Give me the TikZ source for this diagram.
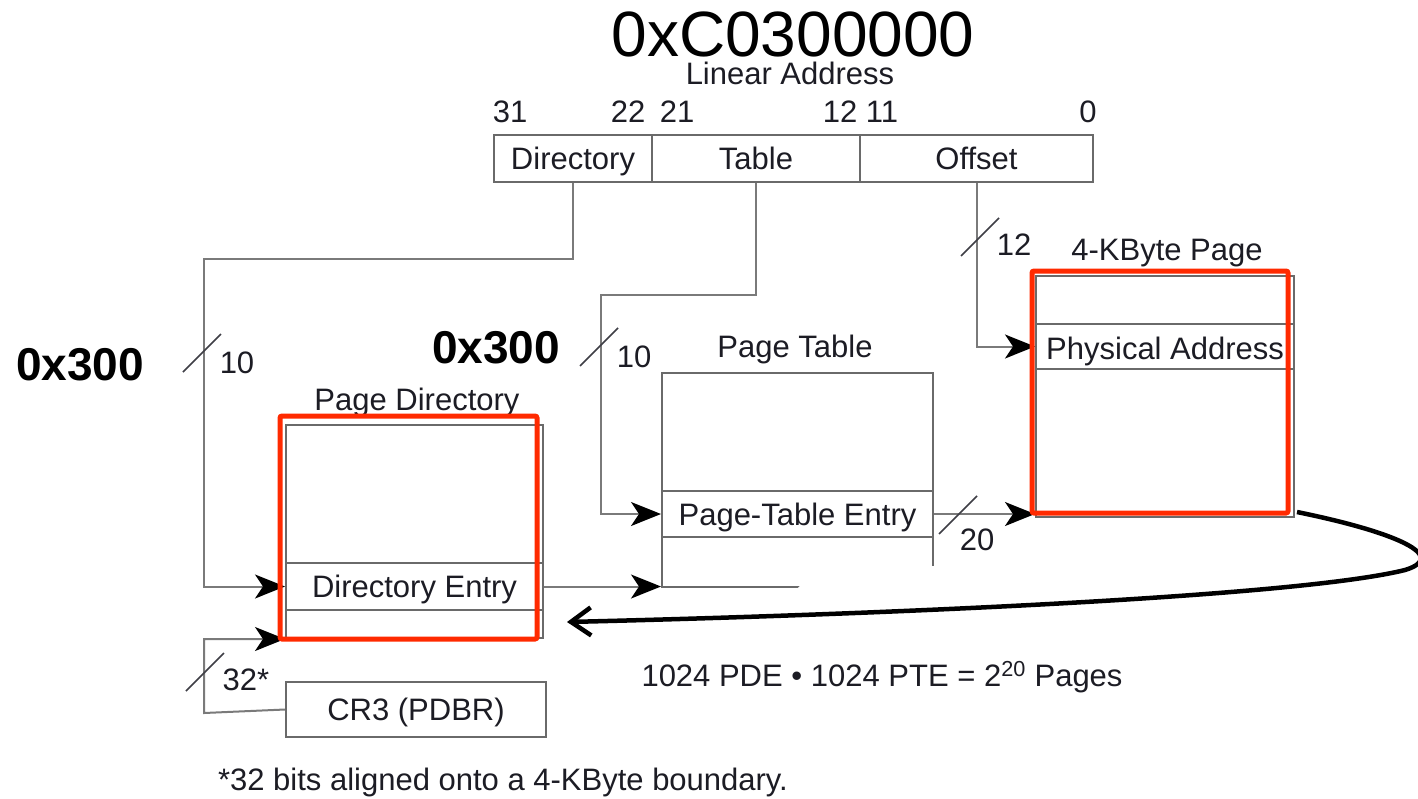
\documentclass[tikz,border=0pt]{standalone}
\usepackage{fontspec}
\setmainfont{Liberation Sans}
\usetikzlibrary{arrows.meta,calc}
\definecolor{linegray}{HTML}{7A7A7A}
\definecolor{boxgray}{HTML}{6A6A6A}
\definecolor{ink}{HTML}{1C1C24}
\definecolor{hilite}{HTML}{FF2A00}
\tikzset{
  txt/.style={font=\fontsize{31}{36}\selectfont, inner sep=0pt, text=ink},
  big/.style={font=\fontsize{64}{70}\selectfont, inner sep=0pt, text=black},
  hexlbl/.style={font=\fontsize{46}{50}\selectfont\bfseries, inner sep=0pt, text=black},
  cell/.style={draw=boxgray, line width=2pt, inner sep=0pt, text height=22pt, text depth=0pt,
    font=\fontsize{31}{36}\selectfont, text=ink},
  conn/.style={draw=linegray, line width=2pt},
  arrowtip/.style={-{Stealth[length=30pt,width=24pt,inset=8pt,color=black]}},
  slashmark/.style={draw=ink!85, line width=1.6pt},
  redframe/.style={draw=hilite, line width=5pt, rounded corners=2pt},
  loopback/.style={draw=black, line width=4.5pt, -{Straight Barb[length=20pt,width=28pt]}},
}
\begin{document}
\begin{tikzpicture}[x=1pt,y=-1pt]
\useasboundingbox (0,0) rectangle (1418,798);
\clip (0,0) rectangle (1418,798);
\fill[white] (0,0) rectangle (1418,798);

% linear address and its bit fields
\node[big, anchor=base] (addr) at (793,56.5) {0xC0300000};
\node[txt, anchor=base] (latitle) at (790,84) {Linear Address};
\node[txt, anchor=base] (b31) at (510,122) {31};
\node[txt, anchor=base] (b22) at (628,122) {22};
\node[txt, anchor=base] (b21) at (677,122) {21};
\node[txt, anchor=base] (b12) at (840,122) {12};
\node[txt, anchor=base] (b11) at (882,122) {11};
\node[txt, anchor=base] (b0) at (1088,122) {0};
\node[cell, minimum width=158pt, minimum height=47pt] (dirf) at (573,158.5) {Directory};
\node[cell, minimum width=208pt, minimum height=47pt] (tabf) at (756,158.5) {Table};
\node[cell, minimum width=233pt, minimum height=47pt] (offf) at (976.5,158.5) {Offset};

% page directory
\node[txt, anchor=base] (pdtitle) at (417,410) {Page Directory};
\node[cell, minimum width=257pt, minimum height=213pt] (pd) at (414.5,531.5) {};
\node[cell, minimum width=257pt, minimum height=47pt] (pde) at (414.5,586.5) {Directory Entry};

% CR3
\node[cell, minimum width=260pt, minimum height=55pt] (cr3) at (416,709.5) {CR3 (PDBR)};

% page table
\node[txt, anchor=base] (pttitle) at (795,357) {Page Table};
\node[cell, minimum width=271pt, minimum height=214pt] (pt) at (797.5,480) {};
\node[cell, minimum width=271pt, minimum height=46pt] (pte) at (797.5,514) {Page-Table Entry};

% 4-KByte page
\node[txt, anchor=base] (pgtitle) at (1167,260) {4-KByte Page};
\node[cell, minimum width=258pt, minimum height=241pt] (pg) at (1165,396.5) {};
\node[cell, minimum width=258pt, minimum height=45pt] (pa) at (1165,346.5) {};
\node[txt, anchor=base west] (patext) at (1046,359) {Physical Address};

% routing corners
\coordinate (dturn) at (204,259);
\coordinate (tturn) at (601,295);
\coordinate (cturn) at (204,713);

% connectors
\draw[conn, arrowtip] (dirf.south) |- (dturn) |- (pde.west);
\draw[conn, arrowtip] (tabf.south) |- (tturn) |- (pte.west);
\draw[conn, arrowtip] (offf.south) |- (pa.west);
\draw[conn, arrowtip] (pde.east) -- (pde.east -| pt.west);
\draw[conn, arrowtip] (pte.east) -- (pte.east -| pg.west);
\draw[conn, arrowtip] (cr3.west) -- (cturn) |- (pd.south west);

% bus width marks
\coordinate (s1) at (202,353);
\coordinate (s2) at (599,347);
\coordinate (s3) at (980,237);
\coordinate (s4) at (958,515);
\coordinate (s5) at (205,672);
\foreach \s in {s1,s2,s3,s4,s5}
  \draw[slashmark] ([shift={(-19,19)}]\s) -- ([shift={(19,-19)}]\s);
\node[txt, anchor=base] (w1) at (237,373) {10};
\node[txt, anchor=base] (w2) at (634,367) {10};
\node[txt, anchor=base] (w3) at (1014,255) {12};
\node[txt, anchor=base] (w4) at (977,550) {20};
\node[txt, anchor=base] (w5) at (246,690) {32*};

% index values
\node[hexlbl, anchor=base] (hex1) at (80,380) {0x300};
\node[hexlbl, anchor=base] (hex2) at (496,363) {0x300};

% notes
\node[txt, anchor=base] (count) at (882,686) {1024 PDE \textbullet{} 1024 PTE = 2\textsuperscript{20} Pages};
\node[txt, anchor=base] (foot) at (503,790) {*32 bits aligned onto a 4-KByte boundary.};

% white patch behind the return arrow
\fill[white] (945,566) -- (840,566) .. controls (810,575) and (800,583) .. (790,598) -- (945,600) -- cycle;

% highlight frames
\draw[redframe] (280,416) rectangle (537,639);
\draw[redframe] (1032,271) rectangle (1288,513);

% return arrow from the page back to the directory
\coordinate (loopstart) at (1297,512);
\coordinate (loopend) at (567,622);
\draw[loopback] (loopstart) .. controls (1395,532) and (1450,556) .. (1405,570)
  .. controls (1300,596) and (900,614) .. (loopend);
\end{tikzpicture}
\end{document}
